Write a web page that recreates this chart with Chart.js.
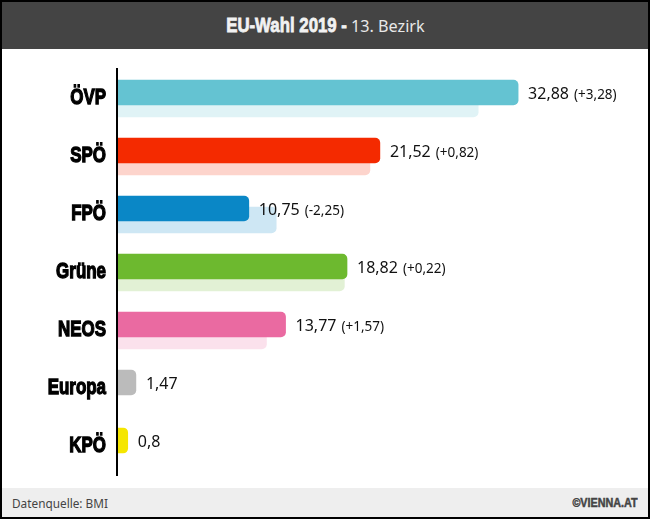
<!DOCTYPE html>
<html>
<head>
<meta charset="utf-8">
<script src="https://cdn.jsdelivr.net/npm/chart.js@4"></script>
<style>
html, body { margin: 0; padding: 0; background: #fff; }
#frame { position: relative; width: 650px; height: 519px; overflow: hidden; }
#chart { position: absolute; left: 0; top: 0; }
#header { position: absolute; left: 0; top: 0; width: 650px; height: 49px; box-sizing: border-box; background: #444; border: 2px solid #000; border-bottom: 0; }
#header b { position: absolute; right: 301px; top: 11px; font: bold 21px/24px "Liberation Sans", sans-serif; color: #f2f2f2; -webkit-text-stroke: 0.8px #f2f2f2; transform: scaleX(0.8); transform-origin: right center; white-space: nowrap; }
#header span { position: absolute; left: 349px; top: 12px; font: 16.2px/24px "Noto Sans", sans-serif; color: #e8e8e8; white-space: nowrap; }
#footer { position: absolute; left: 0; top: 488px; width: 650px; height: 31px; box-sizing: border-box; background: #eee; border: 2px solid #000; border-top: 0; font: 11.8px/30px "Noto Sans", sans-serif; color: #444; padding: 0 10px; }
#footer b { position: absolute; right: 10px; top: 0; font: bold 13px/30px "Liberation Sans", sans-serif; -webkit-text-stroke: 0.5px #444; transform: scaleX(0.83); transform-origin: right center; }
#sides { position: absolute; left: 0; top: 0; width: 650px; height: 519px; box-sizing: border-box; border: 2px solid #000; pointer-events: none; }
</style>
</head>
<body>
<div id="frame">
    <canvas id="chart" width="650" height="519"></canvas>
    <div id="header"><b>EU-Wahl 2019 -</b><span>13. Bezirk</span></div>
    <div id="footer">Datenquelle: BMI<b>©VIENNA.AT</b></div>
    <div id="sides"></div>
</div>
<script>
var parties = ['ÖVP', 'SPÖ', 'FPÖ', 'Grüne', 'NEOS', 'Europa', 'KPÖ'];
var results = [32.88, 21.52, 10.75, 18.82, 13.77, 1.47, 0.8];
var previous = [29.6, 20.7, 13, 18.6, 12.2, null, null];
var resultLabels = ['32,88', '21,52', '10,75', '18,82', '13,77', '1,47', '0,8'];
var changeLabels = ['(+3,28)', '(+0,82)', '(-2,25)', '(+0,22)', '(+1,57)', '', ''];
var barColors = ['#64c3d2', '#f42a00', '#0a87c6', '#6db92f', '#ea6aa1', '#bbbbbb', '#f5e600'];
var lightColors = ['#e0f3f6', '#fdd4cc', '#cee7f4', '#e2f1d5', '#fbe1ec', '#ffffff', '#ffffff'];

// moves each hidden category axis a little so the two bars of a row sit offset
var shiftAxes = {
    id: 'shiftAxes',
    afterLayout: function (chart) {
        [['yMain', -5.5], ['yPrev', 6]].forEach(function (item) {
            var scale = chart.scales[item[0]];
            scale.top += item[1];
            scale.bottom += item[1];
            scale.configure();
        });
    }
};

// party names, squeezed because no condensed black font is installed
var partyLabels = {
    id: 'partyLabels',
    afterDatasetsDraw: function (chart) {
        var ctx = chart.ctx;
        var scale = chart.scales.y;
        ctx.save();
        ctx.textAlign = 'right';
        ctx.textBaseline = 'alphabetic';
        ctx.font = 'bold 22px "Liberation Sans", sans-serif';
        ctx.fillStyle = '#000';
        ctx.strokeStyle = '#000';
        ctx.lineWidth = 1.3;
        parties.forEach(function (name, i) {
            ctx.save();
            ctx.translate(106, scale.getPixelForValue(i) + 6);
            ctx.scale(0.77, 1);
            ctx.strokeText(name, 0, 0);
            ctx.fillText(name, 0, 0);
            ctx.restore();
        });
        ctx.restore();
    }
};

// value labels to the right of the bars
var valueLabels = {
    id: 'valueLabels',
    afterDatasetsDraw: function (chart) {
        var ctx = chart.ctx;
        var bars = chart.getDatasetMeta(1).data;
        ctx.save();
        ctx.textBaseline = 'middle';
        ctx.textAlign = 'left';
        bars.forEach(function (bar, i) {
            var x = bar.x + 10;
            ctx.fillStyle = '#111';
            ctx.font = '16px "Noto Sans", sans-serif';
            ctx.fillText(resultLabels[i], x, bar.y + 2);
            x += ctx.measureText(resultLabels[i]).width + 5;
            ctx.font = '13.5px "Noto Sans", sans-serif';
            ctx.fillText(changeLabels[i], x, bar.y + 3);
        });
        ctx.restore();
    }
};

new Chart(document.getElementById('chart').getContext('2d'), {
    type: 'bar',
    plugins: [shiftAxes, partyLabels, valueLabels],
    data: {
        labels: parties,
        datasets: [{
            label: 'EU-Wahl 2014',
            data: previous,
            yAxisID: 'yPrev',
            backgroundColor: lightColors,
            barThickness: 26,
            grouped: false,
            order: 2,
            borderRadius: { topRight: 5, bottomRight: 5 }
        }, {
            label: 'EU-Wahl 2019',
            data: results,
            yAxisID: 'yMain',
            backgroundColor: barColors,
            barThickness: 25,
            grouped: false,
            order: 1,
            borderRadius: { topRight: 5, bottomRight: 5 }
        }]
    },
    options: {
        indexAxis: 'y',
        responsive: false,
        animation: false,
        layout: { padding: { top: 69, bottom: 44, right: 20.9 } },
        plugins: { legend: { display: false }, title: { display: false }, tooltip: { enabled: false } },
        scales: {
            x: { display: false, min: -0.082, max: 42 },
            y: {
                type: 'category',
                position: 'left',
                afterFit: function (scale) { scale.width = 117; },
                grid: { display: false },
                border: { display: true, color: '#000', width: 2, z: 2 },
                ticks: { display: false }
            },
            yMain: { type: 'category', display: false, offset: true },
            yPrev: { type: 'category', display: false, offset: true }
        }
    }
});
</script>
</body>
</html>
